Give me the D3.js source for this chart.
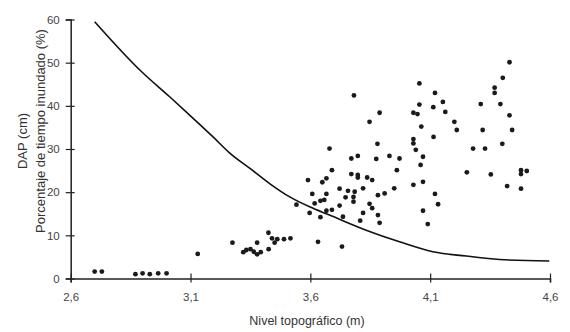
<!DOCTYPE html>
<html>
<head>
<meta charset="utf-8">
<script src="https://cdn.jsdelivr.net/npm/d3@7"></script>
<style>
  body { margin: 0; background: #fff; }
  text { font-family: "Liberation Sans", Arial, sans-serif; fill: #222; }
</style>
</head>
<body>
<div id="chart"></div>
<script>
// nivel topografico (m) of each tree
var nivel = [
    2.70, 2.73, 2.87, 2.90, 2.93, 2.965, 3.00, 3.13,
    3.275, 3.32, 3.333, 3.35, 3.364, 3.378, 3.378, 3.393, 3.426, 3.425, 3.44, 3.451, 3.462, 3.49, 3.517,
    3.542, 3.597, 3.632, 3.732, 3.59, 3.608, 3.618, 3.642, 3.642, 3.65, 3.667, 3.667, 3.658, 3.667,
    3.69, 3.69, 3.722, 3.736, 3.747, 3.771, 3.771, 3.798, 3.798, 3.798, 3.722, 3.757, 3.785, 3.78, 3.78,
    3.82, 3.82, 3.808, 3.837, 3.858, 3.847, 3.858, 3.875, 3.882, 3.882, 3.889, 3.91, 3.93, 3.95, 3.961,
    3.972, 4.03, 4.04, 4.06, 4.07, 4.07, 4.07, 4.09, 4.12, 4.133,
    3.782, 3.889, 3.847, 4.03, 4.047, 4.055, 4.055, 3.88, 4.03, 4.03, 3.68, 4.063,
    4.431, 4.403, 4.369, 4.369, 4.311, 4.393, 4.431, 4.442, 4.319, 4.279, 4.329, 4.401, 4.253, 4.353,
    4.479, 4.503, 4.479, 4.421, 4.479, 4.12, 4.153, 4.163, 4.113, 4.201, 4.211, 4.114
];
// DAP (cm) of each tree
var dap = [
    1.6, 1.6, 1.0, 1.2, 1.0, 1.2, 1.2, 5.7,
    8.3, 6.1, 6.6, 6.8, 6.2, 8.3, 5.6, 6.1, 6.8, 10.6, 9.3, 8.3, 9.1, 9.1, 9.3,
    17.1, 15.2, 8.5, 7.4, 22.8, 19.6, 17.4, 18.0, 14.2, 22.3, 23.2, 15.7, 18.2, 19.6,
    25.1, 15.9, 16.9, 14.3, 18.8, 27.8, 24.2, 28.4, 24.0, 23.4, 20.8, 20.3, 20.1, 18.9, 17.8,
    20.9, 15.2, 13.4, 23.4, 22.8, 17.3, 16.3, 27.7, 19.3, 14.7, 12.9, 19.7, 28.4, 20.9, 25.1,
    27.8, 21.7, 29.8, 26.3, 28.2, 22.4, 15.7, 12.6, 19.6, 17.2,
    42.4, 38.4, 36.3, 38.4, 38.1, 45.2, 40.3, 31.2, 32.3, 31.3, 30.1, 35.2,
    50.1, 46.5, 44.2, 43.0, 40.4, 40.4, 37.8, 34.4, 34.4, 30.1, 30.1, 31.2, 24.6, 24.1,
    25.1, 24.9, 24.2, 21.4, 20.8, 43.0, 40.9, 38.6, 39.7, 36.3, 34.4, 32.8
];
// porcentaje de tiempo inundado (%) curve
var curvaNivel = [2.70, 2.896, 3.013, 3.111, 3.194, 3.265, 3.348, 3.43, 3.514, 3.597,
                  3.68, 3.833, 3.972, 4.111, 4.25, 4.389, 4.597];
var curvaInund = [59.5, 47.9, 42.1, 37.1, 32.8, 29.0, 25.5, 22.0, 18.9, 16.6,
                  14.7, 11.2, 8.5, 6.2, 5.2, 4.4, 4.05];

var xTicks = [2.6, 3.1, 3.6, 4.1, 4.6];
var yTicks = [0, 10, 20, 30, 40, 50, 60];

function init() {
    var w = 570, h = 332;
    var margin = {top: 19.5, right: 20, bottom: 53.5, left: 70.7};

    var svg = d3.select("#chart").append("svg")
        .attr("width", w)
        .attr("height", h);

    var x = d3.scaleLinear().domain([2.6, 4.6])
        .range([margin.left, w - margin.right]);
    var y = d3.scaleLinear().domain([0, 60])
        .range([h - margin.bottom, margin.top]);

    var es = d3.formatLocale({decimal: ",", thousands: ".", grouping: [3], currency: ["", ""]});

    //x axis
    var gx = svg.append("g")
        .attr("transform", "translate(0," + y(0) + ")")
        .call(d3.axisBottom(x).tickValues(xTicks).tickSize(4).tickPadding(10).tickFormat(es.format(".1f")));
    gx.selectAll(".tick line").attr("y1", -5).attr("y2", 4);

    //y axis
    var gy = svg.append("g")
        .attr("transform", "translate(" + x(2.6) + ",0)")
        .call(d3.axisLeft(y).tickValues(yTicks).tickSize(5).tickPadding(6));
    gy.selectAll(".tick line").attr("x1", -5).attr("x2", 4);

    svg.selectAll(".domain").attr("stroke", "#222").attr("stroke-width", 1.5);
    svg.selectAll(".tick line").attr("stroke", "#222").attr("stroke-width", 1.2);
    svg.selectAll(".tick text").attr("font-size", 11.5).style("fill", "#444");

    // points
    svg.append("g").selectAll("circle")
        .data(nivel)
        .enter()
        .append("circle")
        .attr("cx", function(d) { return x(d); })
        .attr("cy", function(d, i) { return y(dap[i]); })
        .attr("r", 2.4)
        .attr("fill", "#1a1a1a");

    // flooding curve
    var line = d3.line()
        .x(function(d) { return x(d); })
        .y(function(d, i) { return y(curvaInund[i]); })
        .curve(d3.curveMonotoneX);
    svg.append("path")
        .datum(curvaNivel)
        .attr("d", line)
        .attr("fill", "none")
        .attr("stroke", "#111")
        .attr("stroke-width", 1.6);

    // axis titles
    svg.append("text")
        .attr("x", 307).attr("y", 325)
        .attr("text-anchor", "middle")
        .attr("font-size", 12.5)
        .style("fill", "#333")
        .text("Nivel topográfico (m)");

    svg.append("text")
        .attr("transform", "translate(27,141) rotate(-90)")
        .attr("text-anchor", "middle")
        .attr("font-size", 13)
        .style("fill", "#333")
        .text("DAP (cm)");

    svg.append("text")
        .attr("transform", "translate(45,131) rotate(-90)")
        .attr("text-anchor", "middle")
        .attr("font-size", 13)
        .style("fill", "#333")
        .text("Porcentaje de tiempo inundado (%)");
}
window.onload = init;
</script>
</body>
</html>
